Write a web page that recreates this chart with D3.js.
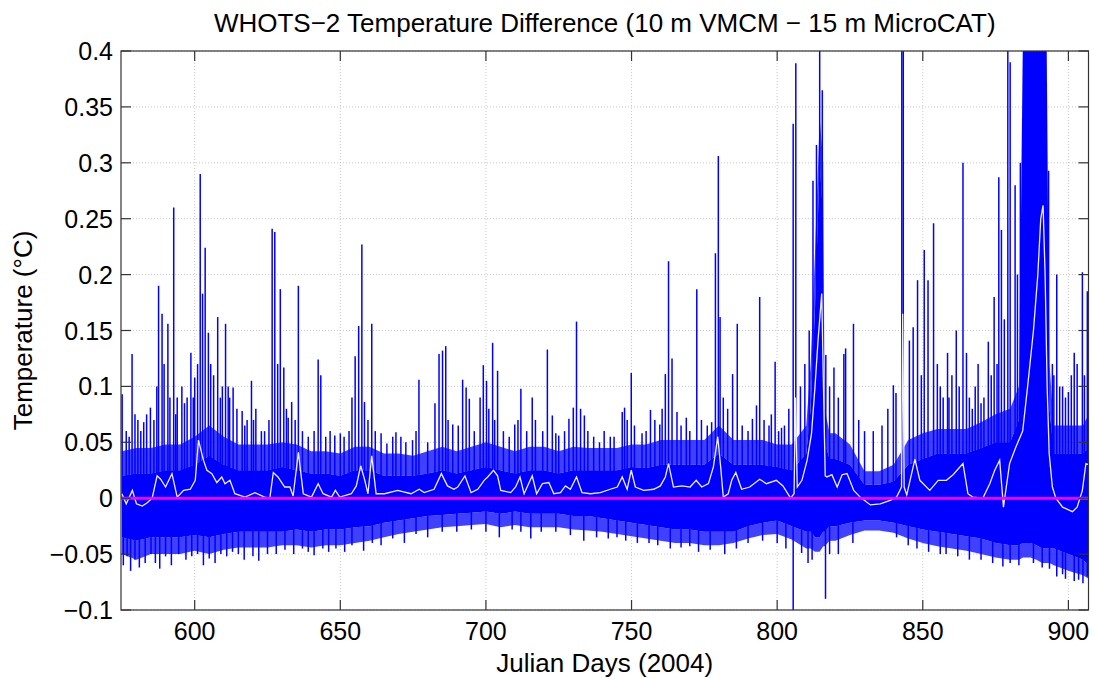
<!DOCTYPE html>
<html>
<head>
<meta charset="utf-8">
<script src="https://cdn.jsdelivr.net/npm/d3@7"></script>
<style>
body { margin: 0; background: #fff; }
svg text { font-family: "Liberation Sans", Arial, Helvetica, sans-serif; fill: #000; }
</style>
</head>
<body>
<div id="chart"></div>
<script>

var titleText = "WHOTS\u22122 Temperature Difference (10 m VMCM \u2212 15 m MicroCAT)";
var xLabel = "Julian Days (2004)";
var yLabel = "Temperature (\u00B0C)";

var xTicks = [600, 650, 700, 750, 800, 850, 900];
var xTickLabels = ["600", "650", "700", "750", "800", "850", "900"];
var yTicks = [-0.1, -0.05, 0, 0.05, 0.1, 0.15, 0.2, 0.25, 0.3, 0.35, 0.4];
var yTickLabels = ["\u22120.1", "\u22120.05", "0", "0.05", "0.1", "0.15", "0.2", "0.25", "0.3", "0.35", "0.4"];

// dense part of the 10 m - 15 m record (solid core and ragged fringe)
var bandDays = [575,580,585,590,595,600,605,610,615,620,625,630,635,640,645,650,655,660,665,670,
  675,680,685,690,695,700,705,710,715,720,725,730,735,740,745,750,755,760,765,770,
  775,780,785,790,795,800,805,810,811.5,813,814.6,815.8,816.3,818,820,825,830,835,840,845,
  850,855,860,865,870,875,880,883,884.4,887,889,891,892.5,893.5,895,900,905,907];
var bandHi = [0.02,0.022,0.022,0.025,0.025,0.03,0.038,0.03,0.025,0.025,0.025,0.028,0.025,0.022,0.022,0.02,0.025,0.025,0.02,0.02,
  0.02,0.022,0.025,0.022,0.025,0.028,0.025,0.022,0.025,0.025,0.022,0.025,0.025,0.025,0.025,0.028,0.027,0.03,0.03,0.03,
  0.03,0.04,0.03,0.03,0.03,0.028,0.025,0.04,0.08,0.17,0.3,0.25,0.05,0.035,0.035,0.03,0.012,0.012,0.015,0.03,
  0.035,0.04,0.04,0.04,0.045,0.05,0.05,0.07,0.42,0.42,0.42,0.42,0.42,0.08,0.04,0.04,0.04,0.045];
var bandTipHi = [0.042,0.045,0.045,0.048,0.048,0.055,0.065,0.055,0.048,0.048,0.048,0.05,0.048,0.042,0.042,0.04,0.046,0.046,0.04,0.04,
  0.038,0.042,0.046,0.042,0.046,0.05,0.046,0.042,0.046,0.046,0.042,0.046,0.045,0.045,0.045,0.048,0.048,0.052,0.052,0.052,
  0.052,0.065,0.052,0.052,0.052,0.048,0.048,0.065,0.12,0.22,0.34,0.3,0.08,0.058,0.058,0.048,0.024,0.024,0.03,0.052,
  0.058,0.062,0.062,0.062,0.068,0.075,0.08,0.1,0.42,0.42,0.42,0.42,0.42,0.12,0.065,0.065,0.065,0.075];
var bandLo = [-0.035,-0.038,-0.035,-0.035,-0.035,-0.033,-0.035,-0.032,-0.03,-0.03,-0.03,-0.03,-0.028,-0.03,-0.028,-0.028,-0.026,-0.025,-0.022,-0.02,
  -0.018,-0.016,-0.015,-0.014,-0.013,-0.012,-0.014,-0.012,-0.014,-0.014,-0.014,-0.016,-0.016,-0.018,-0.02,-0.022,-0.024,-0.026,-0.028,-0.028,
  -0.03,-0.03,-0.03,-0.025,-0.022,-0.02,-0.025,-0.03,-0.03,-0.035,-0.035,-0.03,-0.03,-0.025,-0.025,-0.022,-0.02,-0.02,-0.022,-0.025,
  -0.028,-0.03,-0.032,-0.034,-0.036,-0.04,-0.042,-0.042,-0.04,-0.04,-0.042,-0.045,-0.045,-0.045,-0.045,-0.05,-0.055,-0.06];
var bandTipLo = [-0.05,-0.055,-0.05,-0.05,-0.05,-0.047,-0.05,-0.046,-0.044,-0.044,-0.044,-0.042,-0.042,-0.044,-0.042,-0.042,-0.04,-0.038,-0.035,-0.032,
  -0.03,-0.028,-0.026,-0.025,-0.024,-0.023,-0.026,-0.024,-0.026,-0.026,-0.026,-0.028,-0.029,-0.03,-0.032,-0.034,-0.036,-0.038,-0.04,-0.04,
  -0.042,-0.042,-0.04,-0.036,-0.033,-0.032,-0.037,-0.045,-0.045,-0.048,-0.048,-0.043,-0.043,-0.038,-0.038,-0.033,-0.029,-0.029,-0.031,-0.036,
  -0.04,-0.043,-0.045,-0.047,-0.05,-0.053,-0.055,-0.055,-0.053,-0.053,-0.055,-0.058,-0.058,-0.058,-0.06,-0.065,-0.069,-0.072];

// individual upward spikes
var spikeDays = [575.1,578.5,580.5,582.5,584.8,587.6,588.8,590.8,592.8,594,595.6,597.4,598.7,600,601.9,602.7,603.6,604.7,606.5,607.9,
  609.5,610.6,612,613.2,616.3,618,619.5,621,622.9,626.6,627.5,629.4,630.6,632.1,633.3,635.6,642.4,643.3,648.1,651.3,
  655.1,656.3,657.4,658.3,660.8,666,669.1,670.8,674.8,677,683.9,685.1,686.2,688.6,692,693.2,694.3,699.1,700.2,702.3,
  704,709.9,712,715.9,721.1,722.8,725,728.5,730,731.1,733.8,740.6,742.7,746.8,747.6,749.9,753.6,756.5,759.7,761.6,
  762.7,763.9,765.6,768.8,772.4,777.5,778.8,779.8,780.4,784.7,786.3,791.5,792.9,794,797.2,799.3,801.5,804,805.5,806.4,
  808,809.5,811,812.3,813.5,814.6,815.5,816.7,818,819.5,821,822.9,823.5,826.2,828,830,833,836,838,839.9,
  840.8,842.8,843.3,845.4,846.7,848.2,850.5,851.8,853.7,855,857,858.5,860,861.5,863.8,865,867,869,871,872.5,
  874.5,876.1,877,878,879.2,880,881.7,882.5,883.5,893.2,894.5,896,897,899,901,903,904.8,906.5,
  576.5,577.5,579.5,581.5,583.5,586,587,589.5,591.5,593.5,596.5,599.5,601,605.5,608.8,611.5,614.5,617.2,620.2,624,
  625.5,628.5,631.5,634.5,637,639,641,645,646.5,650,653,654,659.5,662,664,668,672.5,676,680,682.5,
  687,690.5,696,698,701,703,706,708,711,714,717,719.5,724,727,732.5,735,737,739,744,748.5,
  751,755,758,760.5,767,770,774,776,781.5,783,788,790,795.5,798,800.5,802.5,849.5,856,859,862.5,
  866,868,870,873.5,875.5,895,898,900,902,905.5];
var spikeVals = [0.093,0.129,0.07,0.068,0.081,0.19,0.165,0.156,0.26,0.09,0.1,0.09,0.13,0.108,0.29,0.183,0.224,0.148,0.11,0.162,
  0.1,0.156,0.09,0.099,0.078,0.07,0.105,0.08,0.06,0.241,0.238,0.187,0.117,0.072,0.086,0.19,0.124,0.11,0.056,0.055,
  0.127,0.154,0.227,0.086,0.156,0.049,0.059,0.055,0.052,0.106,0.129,0.132,0.136,0.066,0.106,0.099,0.089,0.119,0.105,0.139,
  0.114,0.066,0.098,0.09,0.133,0.074,0.056,0.071,0.081,0.158,0.074,0.06,0.055,0.077,0.081,0.112,0.058,0.079,0.066,0.111,
  0.212,0.125,0.077,0.072,0.187,0.068,0.219,0.306,0.162,0.111,0.156,0.071,0.083,0.18,0.065,0.122,0.063,0.08,0.335,0.389,
  0.1,0.12,0.15,0.284,0.316,0.42,0.365,0.128,0.1,0.117,0.09,0.129,0.134,0.156,0.07,0.06,0.06,0.065,0.08,0.101,
  0.094,0.42,0.42,0.141,0.153,0.195,0.222,0.195,0.246,0.12,0.09,0.13,0.11,0.15,0.3,0.13,0.08,0.12,0.09,0.14,
  0.18,0.287,0.24,0.16,0.42,0.39,0.28,0.2,0.3,0.293,0.12,0.2,0.1,0.09,0.11,0.12,0.202,0.185,
  0.06,0.055,0.075,0.06,0.075,0.07,0.1,0.12,0.09,0.075,0.085,0.09,0.12,0.12,0.09,0.1,0.08,0.065,0.07,0.06,
  0.07,0.12,0.08,0.07,0.06,0.055,0.06,0.055,0.06,0.058,0.06,0.09,0.07,0.06,0.058,0.055,0.05,0.06,0.05,0.085,
  0.07,0.065,0.06,0.09,0.08,0.07,0.06,0.055,0.07,0.06,0.07,0.06,0.058,0.06,0.08,0.06,0.055,0.05,0.055,0.07,
  0.065,0.06,0.07,0.08,0.065,0.06,0.07,0.065,0.09,0.08,0.065,0.06,0.07,0.075,0.06,0.065,0.11,0.1,0.09,0.1,
  0.09,0.1,0.085,0.11,0.12,0.11,0.1,0.095,0.13,0.11];

// individual downward spikes
var dipDays = [575.5,578,581,583,588,592,597,603,607,611,617,622,628,634,641,646,651.5,658,664,672,
  680,695,704.6,715.4,724,733.6,745,752,763.3,773,782,790,805.5,808.4,810.6,816.6,821,848,856,862,
  870,877.5,880,896,899,902,905,906.5,
  576.8,579.5,585,586.5,590,594.5,599,601,605,609,613,615,620,625,631,637,639,644,648.5,654,
  661,668,676,685,690,700,709,712,719,729,738,742,748,756,759,767,770,777,786,795,
  800,803,812,818,826,841,845,852,858,866,874,883,888,891,893.5,898,903.5];
var dipVals = [-0.06,-0.065,-0.062,-0.058,-0.063,-0.06,-0.055,-0.06,-0.058,-0.052,-0.055,-0.056,-0.05,-0.05,-0.051,-0.048,-0.048,-0.047,-0.042,-0.04,
  -0.035,-0.028,-0.035,-0.036,-0.03,-0.038,-0.035,-0.04,-0.045,-0.048,-0.05,-0.04,-0.105,-0.049,-0.058,-0.09,-0.05,-0.045,-0.05,-0.052,
  -0.055,-0.061,-0.058,-0.07,-0.072,-0.074,-0.076,-0.07,
  -0.052,-0.055,-0.05,-0.058,-0.052,-0.05,-0.052,-0.05,-0.054,-0.05,-0.048,-0.05,-0.052,-0.05,-0.046,-0.045,-0.048,-0.045,-0.045,-0.042,
  -0.04,-0.036,-0.032,-0.03,-0.03,-0.03,-0.028,-0.03,-0.03,-0.033,-0.035,-0.036,-0.038,-0.04,-0.042,-0.044,-0.043,-0.046,-0.045,-0.038,
  -0.04,-0.045,-0.055,-0.05,-0.04,-0.035,-0.042,-0.048,-0.05,-0.055,-0.058,-0.06,-0.058,-0.062,-0.063,-0.068,-0.073];

// smoothed difference (white curve)
var meanDays = [575,576.5,578.6,580,582,583.7,585.4,587.1,588.3,590,591.1,592.2,594,596.2,598.5,600.2,601.3,603,604.2,605.9,
  607.6,609.3,610.4,612.1,613.8,617.3,620.7,624,625.8,627,628.6,630.9,632.7,633.8,635.6,637.3,640.1,642.4,644.1,647,
  648.3,649.8,653.8,655.5,657,658.3,659.5,660.8,662.3,665.2,669.7,674.3,677.1,678.8,682.2,684.7,686.8,689,690.3,692.8,
  694.9,697.2,699.4,700.6,702.6,704,705.1,708.5,710.2,711.7,713.1,715.9,717.4,719.4,721.6,723.3,725.6,727.3,729,731.1,
  733,735.9,739.3,742.7,745.1,746.8,748.5,749.9,751.3,754.2,757.6,759.9,761.6,762.7,764.4,767.3,770.1,772.2,774.1,776.4,
  778.1,779.6,780.6,781.5,783.2,784.4,785.8,787.8,790.6,794,796.3,799.7,802,804.6,805.8,806.3,806.9,808.5,810.3,811.8,
  813,814,815.3,815.9,816.5,817.1,818.8,820.6,822.3,824,826.3,828.5,832,835.4,838.8,841,842.7,843.1,843.6,844.5,
  847.3,849,852.4,855.3,858.1,860.4,863.8,865.5,867.2,870.6,873,874.7,876.4,877.7,879.8,882,884.3,886,888,889.5,
  890.5,891.3,892,892.7,893.4,894.5,895.7,898,901.4,903,904.8,906,907];
var meanVals = [0.004,-0.005,0.007,-0.005,-0.007,-0.004,0,0.02,0.017,0.01,0.016,0.022,0.001,0.007,0.008,0.016,0.052,0.034,0.025,0.022,
  0.014,0.019,0.013,0.016,0.004,0.001,0.005,0.001,0,0.023,0.019,0.01,0.01,0.002,0.041,0.004,0.001,0.013,0.004,0.001,
  0.007,0.001,0.004,0.011,0.029,0.017,0.004,0.038,0.004,0.004,0.007,0.004,0.008,0.005,0.008,0.022,0.011,0.008,0.01,0.02,
  0.005,0.008,0.016,0.019,0.025,0.02,0.007,0.005,0.01,0.019,0.004,0.02,0.004,0.013,0.014,0.004,0.005,0.011,0.008,0.019,
  0.005,0.004,0.005,0.008,0.01,0.019,0.008,0.025,0.01,0.007,0.008,0.011,0.019,0.031,0.01,0.011,0.01,0.016,0.01,0.013,
  0.028,0.055,0.028,0.001,0.004,0.016,0.023,0.008,0.01,0.017,0.013,0.016,0.011,0,0.004,0.09,0.01,0.016,0.034,0.058,
  0.1,0.14,0.183,0.1,0.02,0.019,0.021,0.01,0.021,0.022,0.007,0.001,-0.006,-0.005,-0.002,0.001,0.01,0.165,0.01,0.003,
  0.035,0.016,0.007,0.016,0.016,0.021,0.031,0.004,0.001,0,0.013,0.025,0.034,-0.008,0.031,0.046,0.06,0.1,0.15,0.2,
  0.25,0.262,0.2,0.1,0.04,0.01,0,-0.008,-0.012,-0.008,0.007,0.031,0.03];

var zeroLevel = [0];

var width = 1094, height = 679;
var margin = {top: 51, right: 5.5, bottom: 69, left: 121};

var x = d3.scaleLinear().domain([574.7, 906.9]).range([margin.left, width - margin.right]);
var y = d3.scaleLinear().domain([-0.1, 0.4]).range([height - margin.bottom, margin.top]);

var svg = d3.select("#chart").append("svg")
  .attr("width", width)
  .attr("height", height);

svg.append("clipPath").attr("id", "plotclip")
  .append("rect")
  .attr("x", margin.left).attr("y", margin.top)
  .attr("width", width - margin.left - margin.right)
  .attr("height", height - margin.top - margin.bottom);

// grid
svg.append("g").selectAll("line").data(xTicks).enter().append("line")
  .attr("x1", d => x(d)).attr("x2", d => x(d))
  .attr("y1", margin.top).attr("y2", height - margin.bottom)
  .attr("stroke", "#bbb").attr("stroke-width", 0.8).attr("stroke-dasharray", "1,2");
svg.append("g").selectAll("line").data(yTicks).enter().append("line")
  .attr("x1", margin.left).attr("x2", width - margin.right)
  .attr("y1", d => y(d)).attr("y2", d => y(d))
  .attr("stroke", "#bbb").attr("stroke-width", 0.8).attr("stroke-dasharray", "1,2");

var plot = svg.append("g").attr("clip-path", "url(#plotclip)");

var band = bandDays.map((d, i) => ({day: d, hi: bandHi[i], tipHi: bandTipHi[i], lo: bandLo[i], tipLo: bandTipLo[i]}));

var fringeUp = d3.area().x(d => x(d.day)).y0(d => y(d.hi)).y1(d => y(d.tipHi));
var fringeDown = d3.area().x(d => x(d.day)).y0(d => y(d.lo)).y1(d => y(d.tipLo));
var core = d3.area().x(d => x(d.day)).y0(d => y(d.lo)).y1(d => y(d.hi));

plot.append("path").datum(band).attr("d", fringeUp).attr("fill", "#0000ff").attr("fill-opacity", 0.75);
plot.append("path").datum(band).attr("d", fringeDown).attr("fill", "#0000ff").attr("fill-opacity", 0.75);
plot.append("path").datum(band).attr("d", core).attr("fill", "#0000ff");

plot.append("g").selectAll("line").data(spikeDays).enter().append("line")
  .attr("x1", d => x(d)).attr("x2", d => x(d))
  .attr("y1", y(0)).attr("y2", (d, i) => y(spikeVals[i]))
  .attr("stroke", "#0000ff").attr("stroke-width", 1.5);

plot.append("g").selectAll("line").data(dipDays).enter().append("line")
  .attr("x1", d => x(d)).attr("x2", d => x(d))
  .attr("y1", y(0)).attr("y2", (d, i) => y(dipVals[i]))
  .attr("stroke", "#0000ff").attr("stroke-width", 1.5);

var meanLine = d3.line().x(d => x(d)).y((d, i) => y(meanVals[i]));
plot.append("path").datum(meanDays).attr("d", meanLine)
  .attr("fill", "none").attr("stroke", "#eeeeff").attr("stroke-width", 1.3);

plot.selectAll(".zero").data(zeroLevel).enter().append("line")
  .attr("class", "zero")
  .attr("x1", margin.left).attr("x2", width - margin.right)
  .attr("y1", d => y(d)).attr("y2", d => y(d))
  .attr("stroke", "#ff00ff").attr("stroke-width", 3);

// box and ticks
svg.append("rect")
  .attr("x", margin.left).attr("y", margin.top)
  .attr("width", width - margin.left - margin.right)
  .attr("height", height - margin.top - margin.bottom)
  .attr("fill", "none").attr("stroke", "#333").attr("stroke-width", 1.2);

var tickLen = 10;
var tickG = svg.append("g").attr("stroke", "#333").attr("stroke-width", 1.2);
xTicks.forEach(function(t) {
  tickG.append("line").attr("x1", x(t)).attr("x2", x(t)).attr("y1", y(-0.1)).attr("y2", y(-0.1) - tickLen);
  tickG.append("line").attr("x1", x(t)).attr("x2", x(t)).attr("y1", y(0.4)).attr("y2", y(0.4) + tickLen);
});
yTicks.forEach(function(t) {
  tickG.append("line").attr("x1", x.range()[0]).attr("x2", x.range()[0] + tickLen).attr("y1", y(t)).attr("y2", y(t));
  tickG.append("line").attr("x1", x.range()[1]).attr("x2", x.range()[1] - tickLen).attr("y1", y(t)).attr("y2", y(t));
});

svg.append("g").selectAll("text").data(xTicks).enter().append("text")
  .attr("x", d => x(d)).attr("y", 640)
  .attr("text-anchor", "middle")
  .style("font-size", "25px")
  .text((d, i) => xTickLabels[i]);

svg.append("g").selectAll("text").data(yTicks).enter().append("text")
  .attr("x", margin.left - 8).attr("y", d => y(d))
  .attr("dy", "0.36em")
  .attr("text-anchor", "end")
  .style("font-size", "25px")
  .text((d, i) => yTickLabels[i]);

svg.append("text")
  .attr("x", (margin.left + width - margin.right) / 2).attr("y", 32)
  .attr("text-anchor", "middle")
  .style("font-size", "26px")
  .text(titleText);

svg.append("text")
  .attr("x", (margin.left + width - margin.right) / 2).attr("y", 672)
  .attr("text-anchor", "middle")
  .style("font-size", "26px")
  .text(xLabel);

svg.append("text")
  .attr("transform", "translate(32," + ((margin.top + height - margin.bottom) / 2) + ") rotate(-90)")
  .attr("text-anchor", "middle")
  .style("font-size", "26px")
  .text(yLabel);

</script>
</body>
</html>
